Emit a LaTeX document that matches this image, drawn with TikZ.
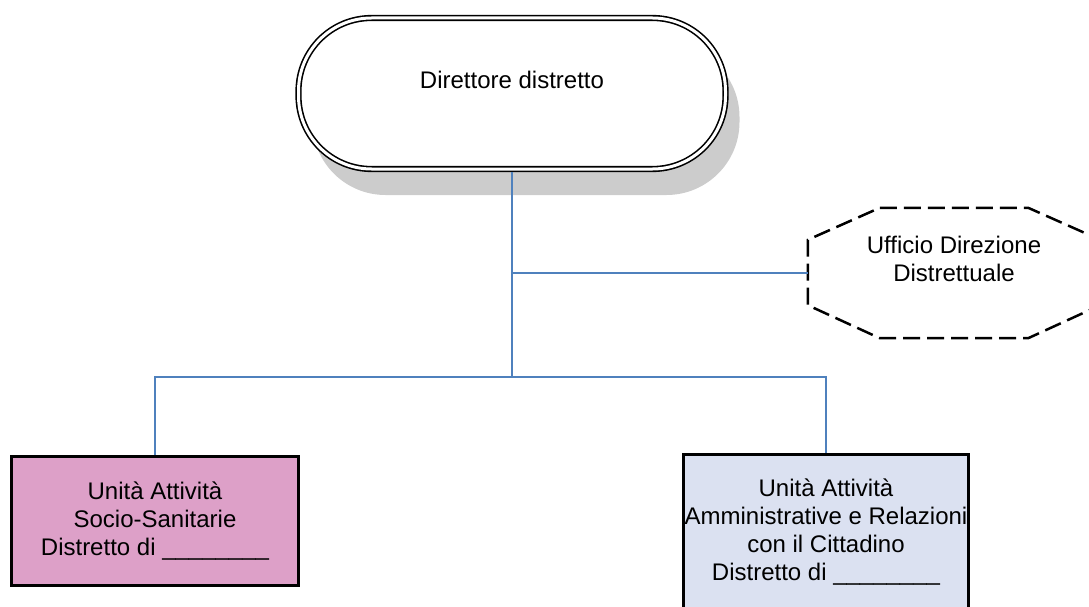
\documentclass[tikz,border=0pt]{standalone}
\usepackage{fontspec}
\setmainfont{Liberation Sans}
\usetikzlibrary{shadows,calc}
\definecolor{linkblue}{RGB}{79,129,189}
\definecolor{pinkfill}{RGB}{221,160,200}
\definecolor{bluefill}{RGB}{219,225,241}
\definecolor{shadowgray}{RGB}{204,204,204}
\begin{document}
\begin{tikzpicture}[x=1pt,y=-1pt,
  every node/.style={font=\fontsize{24}{28}\selectfont,align=center,inner sep=0pt},
  link/.style={draw=linkblue,line width=1.6pt},
  unitbox/.style={draw,line width=3pt},
  officeline/.style={line width=2.5pt,dash pattern=on 17pt off 7pt}]
  \useasboundingbox (0,0) rectangle (1089,607);

  \node[draw,double,double distance=3pt,line width=1.6pt,outer sep=3.1pt,fill=white,
    rounded corners=73pt,minimum width=427pt,minimum height=151pt,
    drop shadow={shadow xshift=14pt,shadow yshift=-26pt,fill=shadowgray,opacity=1}]
    (dir) at (512,93.5) {Direttore distretto\\\mbox{}};

  \node[minimum width=292pt,minimum height=130pt] (udd) at (954,273) {Ufficio Direzione\\Distrettuale\\\mbox{}};
  \draw[officeline] ($(udd.north west)+(72,0)$) -- ($(udd.north east)+(-72,0)$) -- ($(udd.north east)+(0,32)$)
    -- ($(udd.south east)+(0,-33)$) -- ($(udd.south east)+(-72,0)$) -- ($(udd.south west)+(72,0)$)
    -- ($(udd.south west)+(0,-33)$) -- ($(udd.north west)+(0,32)$) -- cycle;

  \node[unitbox,fill=pinkfill,minimum width=287pt,minimum height=129pt] (uas) at (155,521)
    {Unità Attività\\Socio-Sanitarie\\Distretto di \_\_\_\_\_\_\_\_};
  \node[unitbox,fill=bluefill,minimum width=285pt,minimum height=155pt] (uaa) at (826,532)
    {Unità Attività\\Amministrative e Relazioni\\con il Cittadino\\Distretto di \_\_\_\_\_\_\_\_};

  \coordinate (bus) at (512,377);
  \draw[link] (dir.south) -- (bus);
  \draw[link] (dir.south |- udd.west) -- (udd.west);
  \draw[link] (uas.north) |- (bus) -| (uaa.north);
\end{tikzpicture}
\end{document}
